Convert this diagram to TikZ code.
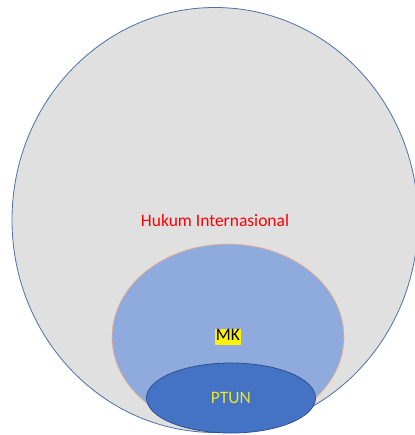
\documentclass[tikz,border=0pt]{standalone}
\usepackage{fontspec}
\setmainfont{Carlito}
\usetikzlibrary{shapes.geometric}

\definecolor{outerFill}{HTML}{E0E0E0}
\definecolor{outerLine}{HTML}{4F6FA8}
\definecolor{mkFill}{HTML}{8FAADC}
\definecolor{mkLine}{HTML}{F4B183}
\definecolor{ptunFill}{HTML}{4472C4}
\definecolor{ptunLine}{HTML}{2F528F}
\definecolor{ptunText}{HTML}{E8E830}

\begin{document}
\begin{tikzpicture}[x=1pt, y=-1pt]

    % Page size of the reference picture.
    \useasboundingbox (0,0) rectangle (414,435);
    \pgfmathsetmacro{\fontValue}{17.5}

    %% ------
    %% Three ellipses, one inside the other,
    %% placed on fixed coordinates (pixel units)
    %% ----

    % Hukum Internasional
    \node[draw=outerLine, line width=0.8pt, ellipse, fill=outerFill, inner sep=0, minimum width=406pt, minimum height=425pt, text=red, font=\fontsize{\fontValue}{20}\selectfont] (hukum) at (215,220) {Hukum Internasional};

    % MK
    \node[draw=mkLine, line width=0.6pt, ellipse, fill=mkFill, inner sep=0, minimum width=232pt, minimum height=186pt, font=\fontsize{\fontValue}{20}\selectfont] (mk) at (228,337) {\setlength{\fboxsep}{1pt}\colorbox{yellow}{\rule[-3.5pt]{0pt}{14.5pt}MK}};

    % PTUN
    \node[draw=ptunLine, line width=0.8pt, ellipse, fill=ptunFill, inner sep=0, minimum width=169pt, minimum height=70pt, text=ptunText, font=\fontsize{\fontValue}{20}\selectfont] (ptun) at (231,398) {PTUN};

\end{tikzpicture}
\end{document}
